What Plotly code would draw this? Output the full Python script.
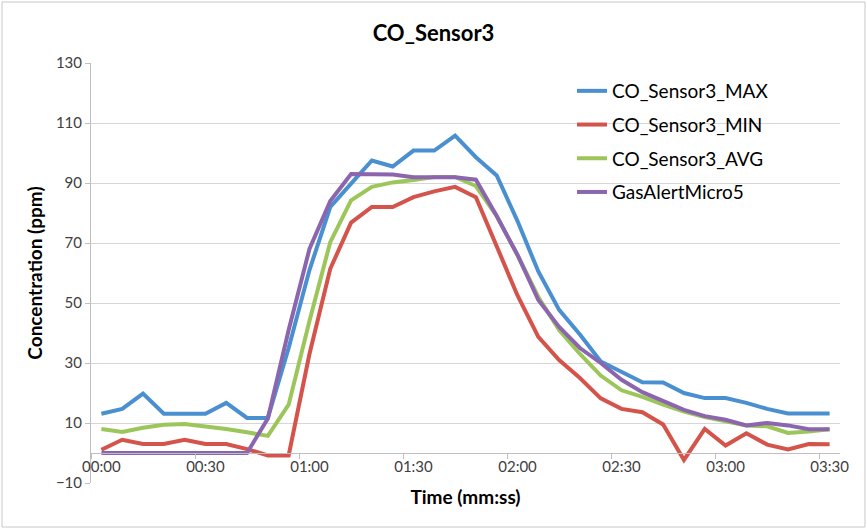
import plotly.graph_objects as go

# time in seconds (6 s sampling)
times = [i * 6 for i in range(36)]
tick_vals = [0, 30, 60, 90, 120, 150, 180, 210]
tick_text = ["00:00", "00:30", "01:00", "01:30", "02:00", "02:30", "03:00", "03:30"]

co_max = [13.1, 14.7, 19.8, 13.1, 13.1, 13.1, 16.7, 11.7, 11.7, 35, 61, 82, 89.8, 97.5, 95.5, 100.8,
          100.8, 105.8, 98.6, 92.5, 77.3, 60.5, 47.7, 39.5, 30.5, 27.2, 23.6, 23.5, 20, 18.3, 18.3,
          16.7, 14.7, 13.2, 13.2, 13.2]
co_min = [1.1, 4.4, 3, 3, 4.4, 3, 3, 1.3, -0.8, -0.8, 33, 61.4, 76.8, 82, 82, 85.3, 87.2, 88.7,
          85.3, 69, 52.5, 38.7, 31, 25, 18.2, 14.7, 13.6, 9.5, -2.3, 8, 2.5, 6.6, 2.8, 1.2, 3, 2.9]
co_avg = [8, 7, 8.4, 9.4, 9.7, 8.9, 8, 6.9, 5.7, 16.1, 44, 70.3, 84.2, 88.7, 90.2, 91, 92, 92, 89,
          79, 66, 52, 41, 33, 25.8, 20.9, 18.7, 16.1, 13.8, 12, 10.6, 9.2, 8.9, 6.7, 7.2, 7.9]
gas_alert = [0, 0, 0, 0, 0, 0, 0, 0, 11.5, 41, 68, 84, 93, 93, 92.8, 91.9, 91.9, 91.9, 91.1, 79,
             66, 51, 42, 35, 30, 24.4, 20.3, 17.3, 14.4, 12.3, 11.1, 9.2, 10, 9.2, 7.9, 7.9]

series = [
    ("CO_Sensor3_MAX", co_max, "#4A8FCF"),
    ("CO_Sensor3_MIN", co_min, "#D4534A"),
    ("CO_Sensor3_AVG", co_avg, "#9CC65A"),
    ("GasAlertMicro5", gas_alert, "#8B66AE"),
]

FONT = "Lato, 'Open Sans', sans-serif"

fig = go.Figure()
for name, vals, col in series:
    fig.add_trace(go.Scatter(x=times, y=vals, mode="lines", name=name, legendgroup=name,
                             line=dict(color=col, width=4)))

W, H = 867, 529
ml, mr, mt, mb = 91, 27, 63, 46
pw, ph = W - ml - mr, H - mt - mb

fig.update_layout(
    width=W, height=H,
    margin=dict(l=ml, r=mr, t=mt, b=mb),
    paper_bgcolor="white", plot_bgcolor="white",
    font=dict(family=FONT, color="#404040", size=15),
    title=dict(text="<b>CO_Sensor3</b>", x=0.5, xref="container", xanchor="center",
               y=1 - 33 / H, yref="container", yanchor="middle",
               font=dict(size=22, color="black", family=FONT)),
    showlegend=True,
    legend=dict(x=(572 - ml) / pw, y=1 - (72 - mt) / ph, xanchor="left", yanchor="top",
                font=dict(size=19, color="black", family=FONT), tracegroupgap=6,
                bgcolor="rgba(0,0,0,0)"),
    xaxis=dict(
        range=[-3, 213], tickvals=tick_vals, ticktext=tick_text, ticks="",
        showgrid=False, zeroline=False, showline=True, linecolor="#BFBFBF", linewidth=1,
        anchor="free", position=10 / 140,
        minor=dict(tickvals=[v - 3 for v in tick_vals], ticks="outside", ticklen=5,
                   tickcolor="#BFBFBF", showgrid=False),
        tickfont=dict(size=15, color="#404040"),
        title=dict(text="<b>Time (mm:ss)</b>", font=dict(size=19, color="black"), standoff=16),
    ),
    yaxis=dict(
        range=[-10, 130], tick0=-10, dtick=20, showgrid=True, gridcolor="#D6D6D6", gridwidth=1,
        zeroline=False, showline=True, linecolor="#BFBFBF", ticks="outside", ticklen=5,
        tickcolor="#BFBFBF", tickfont=dict(size=15, color="#404040"),
        title=dict(text="<b>Concentration (ppm)</b>", font=dict(size=19, color="black"), standoff=8),
    ),
)

# chart border
fig.add_shape(type="rect", xref="paper", yref="paper",
              x0=(2 - ml) / pw, x1=(865 - ml) / pw, y0=(H - mb - 527) / ph, y1=(H - mb - 2) / ph,
              line=dict(color="#C8C8C8", width=1), fillcolor="rgba(0,0,0,0)", layer="below")

fig.write_html("out.html")
